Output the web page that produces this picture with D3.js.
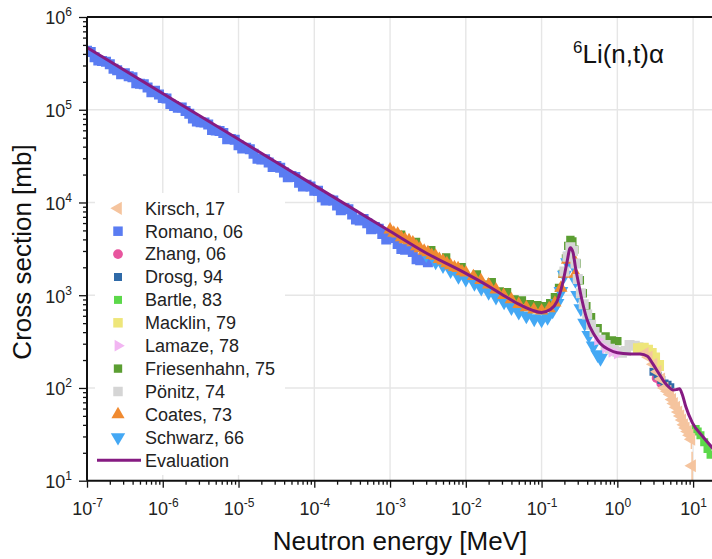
<!DOCTYPE html>
<html>
<head>
<meta charset="utf-8">
<script src="https://cdnjs.cloudflare.com/ajax/libs/d3/7.8.5/d3.min.js"></script>
<style>
  body { margin: 0; background: #fff; }
  svg { display: block; font-family: "Liberation Sans", Arial, sans-serif; }
</style>
</head>
<body>
<svg id="chart"></svg>
<script>
// energies in MeV, cross sections in mb

const evaluation = [
  [1e-7, 4.7e5], [1e-6, 1.5e5], [1e-5, 4.8e4], [1e-4, 1.53e4], [1e-3, 4.9e3],
  [3e-3, 2.85e3], [1e-2, 1.72e3], [2e-2, 1.25e3], [3e-2, 1.02e3], [5e-2, 800],
  [7.5e-2, 690], [0.1, 650], [0.13, 700], [0.16, 860], [0.19, 1350], [0.215, 2200],
  [0.24, 3250], [0.26, 2900], [0.28, 2000], [0.31, 1300], [0.34, 900], [0.4, 540],
  [0.5, 370], [0.6, 300], [0.77, 260], [1.0, 240], [1.5, 233], [2.0, 232], [2.5, 220],
  [2.9, 185], [3.5, 145], [4.2, 115], [4.8, 102], [5.4, 95], [6.0, 96], [6.6, 98],
  [7.2, 85], [8.0, 63], [9.8, 42], [13.4, 30], [19, 21.5]
];

const romano = [
  [1e-7, 4.32e5], [1.12e-7, 4.2e5], [1.26e-7, 3.69e5], [1.41e-7, 3.4e5], [1.58e-7, 3.36e5],
  [1.78e-7, 3.3e5], [2e-7, 3.1e5], [2.24e-7, 2.76e5], [2.5e-7, 2.67e5], [2.82e-7, 2.41e5],
  [3.16e-7, 2.48e5], [3.55e-7, 2.3e5], [3.98e-7, 2.24e5], [4.47e-7, 1.93e5], [5e-7, 1.91e5],
  [5.62e-7, 1.88e5], [6.3e-7, 1.74e5], [7.08e-7, 1.54e5], [7.9e-7, 1.6e5], [8.91e-7, 1.46e5],
  [1e-6, 1.34e5], [1.12e-6, 1.32e5], [1.26e-6, 1.15e5], [1.41e-6, 1.1e5], [1.58e-6, 1.05e5],
  [1.78e-6, 1.06e5], [2e-6, 9.68e4], [2.24e-6, 9.06e4], [2.5e-6, 8.07e4], [2.82e-6, 7.46e4],
  [3.16e-6, 7.35e4], [3.55e-6, 7.28e4], [3.98e-6, 6.92e4], [4.47e-6, 6.06e4], [5e-6, 5.98e4],
  [5.62e-6, 5.91e4], [6.3e-6, 5.62e4], [7.08e-6, 4.82e4], [7.9e-6, 4.85e4], [8.91e-6, 4.74e4],
  [1e-5, 4.14e4], [1.12e-5, 3.82e4], [1.26e-5, 3.9e4], [1.41e-5, 3.75e4], [1.58e-5, 3.36e4],
  [1.78e-5, 2.97e4], [2e-5, 2.9e4], [2.24e-5, 2.92e4], [2.5e-5, 2.7e4], [2.82e-5, 2.41e4],
  [3.16e-5, 2.48e4], [3.55e-5, 2.37e4], [3.98e-5, 2.1e4], [4.47e-5, 1.87e4], [5e-5, 1.93e4],
  [5.62e-5, 1.88e4], [6.3e-5, 1.63e4], [7.08e-5, 1.49e4], [7.9e-5, 1.55e4], [8.91e-5, 1.49e4],
  [1e-4, 1.34e4], [1.12e-4, 1.34e4], [1.26e-4, 1.14e4], [1.41e-4, 1.05e4], [1.58e-4, 1.07e4],
  [1.78e-4, 1.05e4], [2e-4, 9.26e3], [2.24e-4, 8.26e3], [2.5e-4, 8.72e3], [2.82e-4, 8.44e3],
  [3.16e-4, 7.43e3], [3.55e-4, 6.57e3], [3.98e-4, 6.4e3], [4.47e-4, 6.63e3], [5e-4, 5.98e3],
  [5.62e-4, 5.16e3], [6.3e-4, 5.44e3], [7.08e-4, 5.21e3], [7.9e-4, 4.58e3], [8.91e-4, 3.99e3],
  [1e-3, 4.32e3], [1.12e-3, 4.13e3], [1.26e-3, 3.56e3], [1.41e-3, 3.16e3], [1.58e-3, 3.1e3],
  [1.78e-3, 3.18e3], [2e-3, 2.93e3], [2.24e-3, 2.45e3], [2.5e-3, 2.38e3], [2.82e-3, 2.46e3],
  [3.16e-3, 2.27e3]
];

const friesenhahn = [
  [1.1e-3, 4.2e3], [1.4e-3, 4.5e3], [1.8e-3, 3.5e3], [2.2e-3, 3.75e3], [2.8e-3, 2.9e3],
  [3.5e-3, 3.05e3], [4.4e-3, 2.4e3], [5.5e-3, 2.55e3], [7e-3, 1.95e3], [8.8e-3, 2.0e3],
  [1.1e-2, 1.55e3], [1.4e-2, 1.68e3], [1.8e-2, 1.3e3], [2.2e-2, 1.38e3], [2.8e-2, 1.1e3],
  [3.5e-2, 1.08e3], [4.4e-2, 900], [5.5e-2, 880], [7e-2, 800], [8.8e-2, 780],
  [0.11, 760], [0.13, 820], [0.15, 950], [0.17, 1200], [0.19, 1700], [0.21, 2500],
  [0.225, 3400], [0.24, 3950], [0.255, 3800], [0.27, 3100], [0.29, 2200], [0.32, 1450],
  [0.35, 1050], [0.39, 760], [0.45, 580], [0.55, 440], [0.7, 360], [0.85, 325], [1.0, 320]
];

const schwarz = [
  [3e-3, 2.75e3], [4e-3, 2.3e3], [5e-3, 2.1e3], [6.3e-3, 1.85e3], [8e-3, 1.6e3],
  [1e-2, 1.5e3], [1.3e-2, 1.35e3], [1.6e-2, 1.2e3], [2e-2, 1.08e3], [2.5e-2, 960],
  [3.2e-2, 850], [4e-2, 740], [5e-2, 660], [6.3e-2, 600], [8e-2, 560], [0.1, 545],
  [0.12, 580], [0.14, 680], [0.16, 820], [0.18, 1100], [0.2, 1650], [0.22, 2250],
  [0.24, 2650], [0.26, 2150], [0.28, 1450], [0.3, 1000], [0.33, 720], [0.37, 500],
  [0.42, 370], [0.48, 285], [0.55, 230], [0.6, 210]
];

const coates = [
  [1e-3, 5.1e3], [1.12e-3, 4.7e3], [1.26e-3, 4.6e3], [1.41e-3, 4.2e3], [1.58e-3, 4.0e3],
  [1.78e-3, 3.9e3], [2e-3, 3.7e3], [2.24e-3, 3.35e3], [2.5e-3, 3.2e3], [2.82e-3, 3.0e3],
  [3.16e-3, 2.9e3], [3.55e-3, 2.7e3], [3.98e-3, 2.65e3], [4.47e-3, 2.45e3], [5e-3, 2.35e3],
  [5.62e-3, 2.2e3], [6.3e-3, 2.1e3], [7.08e-3, 2.0e3], [7.9e-3, 1.95e3], [8.91e-3, 1.8e3],
  [1e-2, 1.75e3], [1.26e-2, 1.6e3], [1.58e-2, 1.45e3], [2e-2, 1.3e3], [2.5e-2, 1.15e3],
  [3.16e-2, 1.0e3], [3.98e-2, 900], [5e-2, 800], [6.3e-2, 740], [7.9e-2, 700],
  [0.1, 680], [0.126, 720], [0.15, 830], [0.18, 1200], [0.2, 1700], [0.22, 2400],
  [0.24, 2900], [0.26, 2500], [0.28, 1700]
];

const ponitz = [
  [0.2, 1800], [0.22, 2600], [0.24, 3300], [0.26, 3000], [0.28, 2200], [0.3, 1500],
  [0.33, 1050], [0.36, 800], [0.4, 620], [0.45, 480], [0.5, 400], [0.6, 330],
  [0.7, 290], [0.8, 265], [0.9, 255], [1.0, 245], [1.15, 240], [1.3, 250],
  [1.45, 290], [1.7, 285], [1.9, 275]
];

const macklin = [[1.9, 265], [2.2, 268], [2.5, 255], [2.8, 235], [3.1, 210], [3.5, 175]];
const lamaze = [[0.55, 330], [0.7, 270], [0.85, 245], [1.0, 235]];
const drosg = [[3.0, 150], [3.4, 135], [3.8, 122], [4.2, 112], [4.6, 108], [5.0, 102]];
const zhang = [[3.3, 128], [3.8, 112], [4.3, 104]];
const bartle = [[10.8, 36], [11.5, 34], [12.5, 31], [14, 26], [15.5, 22], [17, 19]];

// [E, xs, error]
const kirsch = [
  [2.3, 235, 15], [2.6, 215, 15], [3.0, 180, 14], [3.4, 150, 12], [3.8, 125, 10],
  [4.2, 100, 9], [4.6, 92, 8], [5.0, 85, 8], [5.3, 75, 7], [5.6, 68, 7],
  [6.0, 62, 6], [6.4, 55, 6], [6.8, 50, 6], [7.2, 45, 5], [7.6, 40, 5],
  [8.0, 37, 5], [8.5, 34, 5], [9.0, 31, 5], [9.5, 28, 6], [9.7, 14.5, 6]
];

const xTicks = [1e-7, 1e-6, 1e-5, 1e-4, 1e-3, 1e-2, 1e-1, 1, 10];
const yTicks = [1e1, 1e2, 1e3, 1e4, 1e5, 1e6];

const series = [
  { name: 'Friesenhahn, 75', data: friesenhahn, color: '#5b9e32', shape: 'square', size: 70 },
  { name: 'Romano, 06', data: romano, color: '#5a7cf2', shape: 'square', size: 100 },
  { name: 'Schwarz, 66', data: schwarz, color: '#44a8f4', shape: 'down', size: 95 },
  { name: 'Coates, 73', data: coates, color: '#f08a30', shape: 'up', size: 75 },
  { name: 'Pönitz, 74', data: ponitz, color: '#d5d5d5', shape: 'square', size: 100 },
  { name: 'Lamaze, 78', data: lamaze, color: '#f2b6f2', shape: 'right', size: 60 },
  { name: 'Macklin, 79', data: macklin, color: '#eee67a', shape: 'square', size: 120 },
  { name: 'Bartle, 83', data: bartle, color: '#5cd84a', shape: 'square', size: 64 },
  { name: 'Zhang, 06', data: zhang, color: '#e8559e', shape: 'circle', size: 75 },
  { name: 'Drosg, 94', data: drosg, color: '#2f6aa8', shape: 'square', size: 64 },
  { name: 'Kirsch, 17', data: kirsch, color: '#f5c49e', shape: 'left', size: 75 }
];

const legendOrder = ['Kirsch, 17', 'Romano, 06', 'Zhang, 06', 'Drosg, 94', 'Bartle, 83',
  'Macklin, 79', 'Lamaze, 78', 'Friesenhahn, 75', 'Pönitz, 74', 'Coates, 73', 'Schwarz, 66'];

const margin = { top: 17, right: 0, bottom: 78, left: 87 };
const width = 712 - margin.left - margin.right;
const height = 559 - margin.top - margin.bottom;

const svg = d3.select('#chart')
  .attr('width', 712)
  .attr('height', 559)
  .append('g')
  .attr('transform', `translate(${margin.left},${margin.top})`);

const x = d3.scaleLog().domain([1e-7, Math.pow(10, 1.2495)]).range([0, width]);
const y = d3.scaleLog().domain([10, 1e6]).range([463.7, 0]);

// grid
svg.append('g').selectAll('line').data(xTicks.slice(1)).enter().append('line')
  .attr('x1', d => x(d)).attr('x2', d => x(d)).attr('y1', 0).attr('y2', y(10))
  .attr('stroke', '#e6e6e6').attr('stroke-width', 1.4);
svg.append('g').selectAll('line').data(yTicks.slice(0, -1)).enter().append('line')
  .attr('x1', 0).attr('x2', width).attr('y1', d => y(d)).attr('y2', d => y(d))
  .attr('stroke', '#e6e6e6').attr('stroke-width', 1.4);

function symbolPath(shape, size) {
  const types = { square: d3.symbolSquare, circle: d3.symbolCircle,
    up: d3.symbolTriangle, down: d3.symbolTriangle, left: d3.symbolTriangle, right: d3.symbolTriangle };
  return d3.symbol().type(types[shape]).size(size)();
}
const rot = { up: 0, down: 180, left: -90, right: 90, square: 0, circle: 0 };

svg.append('clipPath').attr('id', 'clip')
  .append('rect').attr('width', width).attr('height', y(10));

const plot = svg.append('g').attr('clip-path', 'url(#clip)');

series.forEach(s => {
  const g = plot.append('g');
  if (s.name === 'Kirsch, 17') {
    g.selectAll('line').data(s.data).enter().append('line')
      .attr('x1', d => x(d[0])).attr('x2', d => x(d[0]))
      .attr('y1', d => y(d[1] - d[2])).attr('y2', d => y(d[1] + d[2]))
      .attr('stroke', s.color).attr('stroke-width', 1.5);
  }
  g.selectAll('path').data(s.data).enter().append('path')
    .attr('d', symbolPath(s.shape, s.size))
    .attr('transform', d => `translate(${x(d[0])},${y(d[1])}) rotate(${rot[s.shape]})`)
    .attr('fill', s.color);
});

const line = d3.line()
  .x(d => x(d[0]))
  .y(d => y(d[1]))
  .curve(d3.curveMonotoneX);

plot.append('path')
  .datum(evaluation)
  .attr('d', line)
  .attr('fill', 'none')
  .attr('stroke', '#861b82')
  .attr('stroke-width', 3);

// axes
function sup(sel) {
  sel.each(function(d) {
    const t = d3.select(this);
    const e = Math.round(Math.log10(d));
    t.text(null);
    t.append('tspan').text('10');
    t.append('tspan').attr('dy', -8).attr('font-size', 12).text(e);
  });
}

const xMinor = [];
for (let p = -7; p <= 1; p++) for (let m = 2; m <= 9; m++) {
  const v = m * Math.pow(10, p);
  if (v < x.domain()[1]) xMinor.push(v);
}
const yMinor = [];
for (let p = 1; p <= 5; p++) for (let m = 2; m <= 9; m++) yMinor.push(m * Math.pow(10, p));

const xAxisG = svg.append('g').attr('transform', `translate(0,${y(10)})`);
xAxisG.append('g').call(d3.axisBottom(x).tickValues(xMinor).tickSize(4).tickFormat(''))
  .call(g => g.select('.domain').remove());
xAxisG.append('g').call(d3.axisBottom(x).tickValues(xTicks).tickSize(7))
  .call(g => g.select('.domain').remove())
  .call(g => g.selectAll('.tick text')
    .attr('y', 34).attr('dy', null)
    .attr('font-size', 18).attr('fill', '#222')
    .call(sup));

const yAxisG = svg.append('g');
yAxisG.append('g').call(d3.axisLeft(y).tickValues(yMinor).tickSize(4).tickFormat(''))
  .call(g => g.select('.domain').remove());
yAxisG.append('g').call(d3.axisLeft(y).tickValues(yTicks).tickSize(8))
  .call(g => g.select('.domain').remove())
  .call(g => g.selectAll('.tick text')
    .attr('x', -15).attr('dy', '0.38em')
    .attr('font-size', 18).attr('fill', '#222')
    .call(sup));

svg.selectAll('.tick line').attr('stroke', '#111').attr('stroke-width', 1.3);

svg.append('line').attr('x1', 0).attr('x2', width).attr('y1', y(10)).attr('y2', y(10))
  .attr('stroke', '#111').attr('stroke-width', 2);
svg.append('line').attr('x1', 0).attr('x2', width).attr('y1', 0).attr('y2', 0)
  .attr('stroke', '#111').attr('stroke-width', 2);
svg.append('line').attr('x1', 0).attr('x2', 0).attr('y1', 0).attr('y2', y(10))
  .attr('stroke', '#111').attr('stroke-width', 2);

// axis titles
svg.append('text')
  .attr('x', 313).attr('y', 533)
  .attr('text-anchor', 'middle')
  .attr('font-size', 26).attr('fill', '#111')
  .text('Neutron energy [MeV]');

svg.append('text')
  .attr('transform', 'rotate(-90)')
  .attr('x', -235).attr('y', -56)
  .attr('text-anchor', 'middle')
  .attr('font-size', 26).attr('fill', '#111')
  .text('Cross section [mb]');

// reaction label
const title = svg.append('text').attr('x', 486).attr('y', 46).attr('font-size', 26).attr('fill', '#111');
title.append('tspan').attr('font-size', 17).attr('dy', -10).text('6');
title.append('tspan').attr('dy', 10).text('Li(n,t)α');

// legend
const legend = svg.append('g').attr('transform', 'translate(8,176)');
legend.append('rect').attr('x', 0).attr('y', 0).attr('width', 190).attr('height', 282).attr('fill', '#fff');
legendOrder.forEach((name, i) => {
  const s = series.find(d => d.name === name);
  const row = legend.append('g').attr('transform', `translate(0,${15.3 + i * 22.9})`);
  row.append('path')
    .attr('d', symbolPath(s.shape, Math.min(s.size, 90)))
    .attr('transform', `translate(23,0) rotate(${rot[s.shape]})`)
    .attr('fill', s.color);
  row.append('text').attr('x', 50).attr('dy', '0.35em')
    .attr('font-size', 18).attr('fill', '#222').text(name);
});
const evalRow = legend.append('g').attr('transform', `translate(0,${15.3 + 11 * 22.9})`);
evalRow.append('line').attr('x1', 2).attr('x2', 46).attr('stroke', '#861b82').attr('stroke-width', 3);
evalRow.append('text').attr('x', 50).attr('dy', '0.35em')
  .attr('font-size', 18).attr('fill', '#222').text('Evaluation');
</script>
</body>
</html>
